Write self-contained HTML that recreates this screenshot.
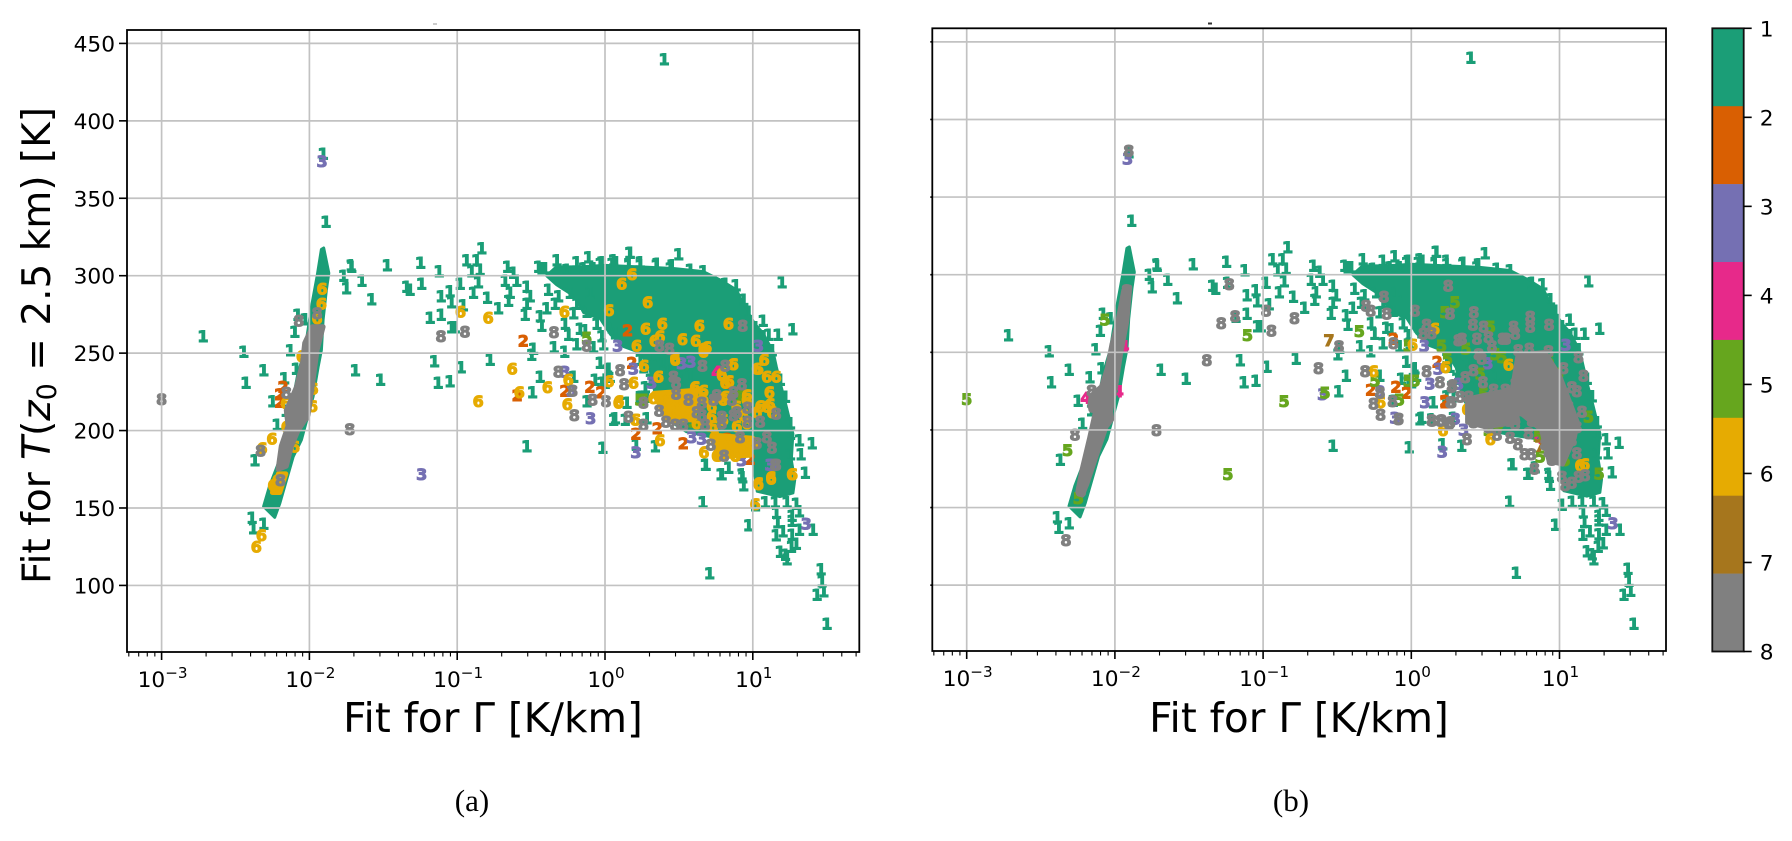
<!DOCTYPE html>
<html lang="en">
<head>
<meta charset="utf-8">
<title>Fit scatter by cluster</title>
<style>
html,body{margin:0;padding:0;background:#fff;width:1792px;height:841px;overflow:hidden}
svg{display:block}
text{font-family:"DejaVu Sans","Liberation Sans",sans-serif;fill:#000}
.cap{font-family:"Liberation Serif",serif;font-size:31px}
</style>
</head>
<body>
<svg id="fig" xmlns="http://www.w3.org/2000/svg" width="1792" height="841" viewBox="0 0 1792 841">
  <g id="panel-a"></g>
  <g id="panel-b"></g>
  <g id="cbar"></g>
  <text x="493" y="732" font-size="40.6" text-anchor="middle">Fit for Γ [K/km]</text>
  <text x="1299" y="732" font-size="40.6" text-anchor="middle">Fit for Γ [K/km]</text>
  <text transform="translate(50,584) rotate(-90)" font-size="39" text-anchor="start">Fit for <tspan font-style="italic">T</tspan>(<tspan font-style="italic">z</tspan><tspan font-size="27" dy="6">0</tspan><tspan dy="-6"> = 2.5 km) [K]</tspan></text>
  <text class="cap" x="472" y="811" text-anchor="middle">(a)</text>
  <text class="cap" x="1291" y="811" text-anchor="middle">(b)</text>
  <rect x="433" y="23.5" width="4" height="1" fill="#999"/>
  <rect x="1208" y="22.5" width="4" height="2" fill="#333"/>
</svg>
<script>
// Colour per cluster label (1..8)
const clusterColors = ['#1b9e77','#d95f02','#7570b3','#e7298a','#66a61e','#e6ab02','#a6761d','#808080'];
const clusterLabels = [1,2,3,4,5,6,7,8];
const yTicks = [100,150,200,250,300,350,400,450];
const xTickExponents = [-3,-2,-1,0,1];
const minorMultipliers = [2,3,4,5,6,7,8,9];
const xMinorDecades = [-4,-3,-2,-1,0,1];

// All data pairs are [log10(Gamma in K/km), T in K]
const cloudOutline = [[-0.169,306],[0,307],[0.237,306],[0.463,305],[0.666,303],[0.79,297],[0.892,291],[0.948,280],[1.016,269],[1.072,263],[1.14,251],[1.163,241],[1.196,228],[1.23,215.5],[1.275,198],[1.264,181],[1.287,168],[1.275,159.5],[1.185,157],[1.027,160.5],[1.0,178],[0.95,192],[0.85,194],[0.7,196],[0.55,199],[0.42,207],[0.34,222],[0.30,240],[0.237,250],[0.124,254],[0.034,262],[-0.034,272],[-0.147,276],[-0.2,286],[-0.33,294],[-0.40,300],[-0.33,306]];
const ridgeOutline = [[-1.903,317.9],[-1.869,301.7],[-1.885,291],[-1.907,271.6],[-1.919,252],[-1.941,241],[-1.975,222],[-2.054,194],[-2.11,183],[-2.2,153],[-2.235,144],[-2.31,151],[-2.27,164],[-2.21,179],[-2.167,194],[-2.133,209],[-2.077,237],[-2.03,252],[-1.986,280],[-1.948,299.6],[-1.919,317]];
const greyRidgeA = [[-1.907,267],[-1.948,252],[-1.975,233],[-2.009,210],[-2.077,200],[-2.122,190],[-2.156,177],[-2.212,175],[-2.19,190],[-2.144,203],[-2.156,213],[-2.088,228],[-2.047,243.5],[-2.032,256.5],[-1.98,267]];
const greyRidgeB = [[-1.90,292],[-1.92,270],[-1.96,250],[-2.0,225],[-2.03,212],[-2.02,207],[-2.06,202],[-2.12,185],[-2.19,165],[-2.22,158],[-2.25,160],[-2.22,175],[-2.17,195],[-2.13,212],[-2.17,215],[-2.16,222],[-2.09,228],[-2.05,240],[-2.02,255],[-1.98,270],[-1.94,290]];
const greyCoreB = [[0.72,248],[0.9,250],[1.0,235],[1.12,205],[1.1,195],[1.02,178],[0.93,180],[0.88,200],[0.75,210],[0.68,225]];
const greyArcB = [[0.38,220],[0.68,226],[0.72,205],[0.5,202],[0.38,205]];
const orangeArcA = [[0.33,224],[0.62,226],[0.6,207],[0.42,207]];
const orangeLowA = [[0.74,197],[1.0,195],[0.98,184],[0.76,183]];
const orangeRidgeA = [[-2.21,172],[-2.16,172],[-2.2,160],[-2.25,160]];

// Class-1 points, same location and label in both panels
const sharedClass1 = [[0.40,440],[-1.907,379],[-1.889,335],[-2.72,261],[-2.445,251],[-2.31,239],[-2.43,231],[-2.13,252],[-2.10,264],[-2.08,275],[-2.03,272],[-2.17,234],[-2.09,240],[-2.25,219],[-2.16,213],[-2.22,204],[-2.37,181],[-2.39,144],[-2.38,137],[-2.31,140],[-1.69,239],[-1.52,233],[-1.72,307],[-1.77,300],[-1.75,292],[-1.716,306],[-1.474,307],[-1.248,308.6],[-1.646,297],[-1.58,285],[-1.343,293],[-1.321,291],[-1.242,295],
[-0.835,318],[-0.937,310],[-0.869,310],[-1.124,303],[-0.661,306],[-0.621,302],[-0.903,303],[-0.847,304],[-0.858,296],[-0.982,295],[-0.892,289],[-0.797,286],[-1.05,290],[-1.11,287],[-1.04,283],[-0.96,281],[-1.11,275],[-0.722,279],[-0.654,284],[-1.185,273],[-1.04,267],[-1.015,267],[-1.155,245],[-0.975,241],[-1.13,231],[-1.05,232],[-0.779,246],[-0.492,225],[-0.44,235],[-0.485,253],[-0.497,249],[-0.345,254],[-0.275,251],[-0.53,190],[-0.016,189],[0.21,191],[0.339,190],[0.068,208],[0.147,218],[0.023,240],[-0.023,231],[-0.214,235],[-0.124,219],[-0.068,233],[0.135,207],[0.282,208],[0.237,222],[0.677,178],[0.79,172],[0.835,176],[0.925,172],
[-0.677,297],[-0.643,289],[-0.598,297],[-0.53,293],[-0.508,287],[-0.53,282],[-0.542,275],[-0.44,274],[-0.429,268],[-0.395,279],[-0.384,291],[-0.339,282],[-0.316,287],[-0.327,310],[-0.429,305],[-0.451,306],[-0.406,305],[-0.237,289],[-0.271,269],[-0.248,262],[-0.192,256],[-0.169,266],[-0.135,265],[-0.214,276],[-0.192,282],[-0.124,277],[-0.102,289],[-0.056,269],[-0.011,256],[-0.079,254],[0.045,267],[0.068,263],[-0.023,261],[-0.113,312],[-0.023,309],[0.169,315],[0.497,314],[0.056,310],[0.158,307],[0.237,309],[0.35,308],[0.44,305],[-0.192,309],[-0.26,304],[-0.147,305],[-0.079,305],
[0.165,315],[0.885,294],[1.196,296],[1.068,271],[1.106,262],[1.169,262],[1.269,265.5],[1.314,194],[1.40,192],[1.325,185],[1.354,173],[0.783,172],[0.93,170],[0.937,165],[0.682,178],
[0.237,246],[0.316,248],[0.26,241],[0.395,244],[0.418,239],[0.384,233],[0.305,233],[0.271,228],[0.282,222],[0.53,241],[0.576,235],[0.508,233],[0.056,207],[0.011,239],[0,231],[-0.034,244],[0.034,235],
[0.661,154],[0.971,139],[0.707,108],[1.084,154],[1.151,154],[1.23,154],[1.293,153],[1.158,147],[1.167,141],[1.264,145],[1.264,142],[1.314,148],[1.314,136],[1.406,136],[1.156,132.5],[1.203,135],[1.264,133],[1.293,127],[1.26,125],[1.185,122],[1.219,120],[1.23,117],[1.46,110.6],[1.467,103],[1.479,96.5],[1.433,94],[1.501,75.4],[1.016,152],
[-0.034,308],[0.045,308],[0.074,309],[0.158,308],[0.237,307],[0.345,307],[0.451,307],[0.576,304],[0.666,303],[0.813,295],[0.937,284.5],[0.971,277],[1.016,267],[1.072,261],[1.129,252],[1.185,233],[1.219,222],[1.253,205],[1.253,198],[1.253,185]];

// Panel (a) clusters
const a2 = [[-2.178,228.5],[-2.2,223.7],[-2.2,218.7],[-0.553,258],[-0.594,223],[-0.271,226],[-0.102,228.5],[-0.027,225],[0.153,265],[0.181,244],[0.21,198],[0.354,201.5],[0.53,192],[0.982,182],[0.835,231],[0.828,195]];
const a3 = [[-1.914,374],[-1.24,172],[0.086,255],[-0.271,238],[-0.226,226],[-0.097,208],[0.192,240],[0.21,186],[0.316,231],[0.519,243.5],[0.582,244.6],[1.038,255],[0.587,196],[0.655,195],[0.474,211],[1.129,178],[0.925,181],[1.361,140],[1.117,178]];
const a4 = [[0.757,238],[0.88,187.5]];
const a5 = [[-0.124,260],[0.237,220],[0.609,206],[0.722,203],[0.914,222],[0.26,220],[0.892,222],[0.598,206]];
const a6 = [[-2.232,165],[-2.253,195],[-2.32,188.6],[-2.325,132.5],[-2.359,125],[-1.914,291.6],[-1.919,282],[-1.948,272.6],[-1.98,216],[-2.16,217.7],[-1.975,227],[-2.054,248],[-2.156,202.6],[-2.1,189.7],[-2.217,168],[-2.246,165],
[-0.977,277],[-0.79,273],[-0.275,277],[-0.628,240],[-0.58,225],[-0.858,219],[-0.39,228],[-0.248,233],[-0.255,217],[0.027,232],[0.095,219],[0.027,278],[0.113,295],[0.183,301],[0.289,283],[0.275,266],[0.388,269],[0.214,255],[0.334,258],[0.372,261],[0.524,259],[0.614,258],[0.639,268],[0.835,269],[0.688,254],[0.666,251],[0.474,246],[0.264,242],[0.361,235],[0.192,231],[0.609,228],[0.666,226],[0.79,237],[0.865,243],[0.84,232],[0.372,194],[0.203,207],[0.67,186],[0.767,184],[0.88,184],[0.948,187.5],[1.038,240],
[0.327,221],[0.384,218],[0.429,221],[0.485,216],[0.53,220],[0.61,218],[0.666,221],[0.722,216],[0.813,222],[0.959,220],[1.05,216],[1.117,217],[0.429,209],[0.485,208],[0.564,210],[0.722,209],[0.937,210],[1.027,212],[0.61,228],[0.79,236],[0.813,231],[0.361,235],[0.474,247],[0.666,253],[0.869,243],[1.027,240],[1.077,246],[1.095,235],[1.158,235],[1.113,225],[1.264,172],[1.124,170],[1.038,166],[0.756,184],[0.883,184],[0.941,187.5],[0.835,192],[0.959,190],[1.005,192],[0.74,196],[0.208,207],[0.09,218],[0.892,203],[0.8,207],[0.62,205],[0.73,203],[0.96,205],[1.095,215.5],[1.13,212],[0.89,215.5],[0.80,220],[0.96,223],[1.269,172],[1.016,152.6],[1.124,169],[1.038,165.5]];
const a7 = [];
const a8 = [[-3,220.5],[-1.727,201],[-2.072,271],[-1.948,276],[-2.33,187],[-2.156,224.6],[-2.196,168],[-2.032,210],[-1.11,261],[-0.948,264],[-0.345,263.6],[-0.124,255],[-0.316,238],[-0.219,226],[-0.084,220],[0.007,219],[-0.208,210],[0.102,239],[0.129,230],[0.158,209],[0.26,218],[0.26,204],[0.368,255],[0.436,253],[0.659,242],[0.813,242],[0.926,230],[0.932,268],[0.463,235],[0.481,231],[0.481,224],[0.564,220],[0.366,213],[0.413,206],[0.474,204],[0.53,204],[0.62,212],[0.655,218],[0.655,210],[0.677,204],[0.734,220],[0.756,223],[0.858,220],[0.869,225],[0.79,209],[0.79,205],[0.869,210],[0.892,212],[0.964,215],[0.964,206],[1.05,206],[1.158,211],[0.914,196],[1.095,196],[1.027,192],[1.129,189],[0.716,191],[0.806,184],[1.151,178],[1.158,178]];

// Panel (b) clusters
const b2 = [[-0.121,259],[0.175,244],[-0.103,228],[-0.031,224],[-0.274,226],[0.227,219],[-0.029,224],[0.229,218]];
const b3 = [[-1.914,375],[-0.598,223],[0.088,254.5],[0.182,239.5],[0.126,230],[0.092,218],[-0.11,208],[0.209,186],[-0.211,225],[0.319,230],[0.517,243],[1.043,255],[0.353,200.4],[0.297,207.5],[0.566,219],[0.971,182],[1.361,140]];
const b4 = [[0.742,238.6],[-2.196,221],[-1.978,225],[-1.94,254],[0.86,195]];
const b5 = [[-3,220],[-2.067,271],[-2.319,187],[-2.247,156],[-1.105,261],[-0.351,263.6],[-0.582,224],[-0.858,218.5],[-1.238,171.6],[-0.02,254.5],[-0.02,232],[0.025,232],[-0.081,219.6],[0.294,282.5],[0.227,276],[0.204,254.5],[0.243,246],[-0.245,232],[0.369,252.6],[0.533,266.5],[0.566,249],[0.611,247],[0.93,245],[0.993,236.5],[0.488,223.6],[0.791,223.6],[1.05,208.6],[1.196,208.6],[0.858,196],[0.87,183],[1.038,180.6],[1.267,172],[0.915,219],[0.589,204],[0.465,236.5],[0.521,200]];
const b6 = [[0.009,255],[0.231,240.7],[-0.256,238],[-0.207,218],[0.157,265.5],[0.656,242],[0.375,213.5],[0.611,207],[0.213,200],[0.533,194],[1.139,177.5],[1.17,178],[0.903,220],[0.982,198]];
const b7 = [[-0.555,258],[0.87,190],[0.611,219.5]];
const b8 = [[-1.229,294],[-1.189,273.5],[-1.283,269],[-1.38,245],[-1.72,200],[-0.98,277],[-0.944,264],[-0.789,272],[-0.627,240],[-0.488,254],[-0.306,280],[-0.274,277],[-0.184,286],[-0.166,275],[0.025,277],[0.249,293],[0.261,275],[0.103,268],[0.081,262],[0.137,262.5],[-0.121,256],[-0.312,238],[-0.211,224],[-0.126,218.5],[-0.256,217],[-0.207,210],[-0.088,207],[0.103,238],[0.193,231],[0.272,228],[0.272,218],[0.137,206.5],[0.204,206.5],[0.256,204],[0.317,258],
[0.422,276],[0.416,268],[0.488,266.5],[0.802,273],[0.802,266.5],[0.93,268],[0.69,266.5],[0.701,262],[0.616,259],[0.64,259],[0.342,259],[0.443,259],[0.521,260],[0.544,254],[0.721,251.5],[0.796,252.6],[0.926,251],[1.128,247],[1.162,235],[1.083,227.5],[1.117,225],[1.027,240],[0.454,249],[0.476,246],[0.42,238.6],[0.364,234],[0.279,229],[0.483,231],[0.555,226],[0.634,226],[0.701,230],[0.33,221.5],[0.387,221.5],[0.263,218],[0.499,216],[0.555,215],[0.656,217],[0.398,208.6],[0.42,205],[0.544,206],[0.521,202],[0.263,205],[0.196,206],[0.139,206],[-0.085,207.5],[0.578,197],[0.375,194],[0.667,195],[0.719,191],[0.764,184.5],[0.809,184.5],[0.831,175],[0.926,186],[1.016,170],[1.038,164.5],[1.083,166],[1.173,171],[1.128,170],[1.117,185],[1.083,193.5],[1.117,202],[1.151,212],[0.78,241],[0.757,234],[0.712,224],[0.858,226],[0.903,230],[0.948,228],[0.993,221.5],[1.038,218],[1.06,215],[0.858,243],[0.791,217],[0.746,213],[0.858,213],[0.948,213],[1.038,206],[0.926,204],[0.813,206],[0.791,198],[0.926,198],[1.038,198],[0.903,191],[0.948,181],[1.038,189],[0.701,204],[0.656,206],
[-1.921,290],[-1.933,281],[-2.09,221],[-2.045,212],[-2.157,225.5],[-2.146,215],[-2.229,161],[-2.33,129],[-2.27,197],[-1.907,380]];

const panelASeries = [sharedClass1,a2,a3,a4,a5,a6,a7,a8];
const panelBSeries = [sharedClass1,b2,b3,b4,b5,b6,b7,b8];
const panelAOrangeShapes = [orangeArcA,orangeLowA,orangeRidgeA];
const panelAGreyShapes = [greyRidgeA];
const panelBOrangeShapes = [];
const panelBGreyShapes = [greyRidgeB,greyCoreB,greyArcB];

const SVG_NS = 'http://www.w3.org/2000/svg';

function make(parent, tag, attrs){
  const node = document.createElementNS(SVG_NS, tag);
  for (const k in attrs) node.setAttribute(k, attrs[k]);
  parent.appendChild(node);
  return node;
}

function makeAxes(left, right, top, bottom, x0, decade, y300, perK){
  return {
    left: left, right: right, top: top, bottom: bottom,
    x: function(lg){ return x0 + lg * decade; },
    y: function(t){ return y300 + (300 - t) * perK; }
  };
}

function polyPoints(ax, outline){
  return outline.map(function(p){ return ax.x(p[0]).toFixed(1) + ',' + ax.y(p[1]).toFixed(1); }).join(' ');
}

function drawPanel(root, ax, series, orangeShapes, greyShapes, showYLabels){
  // dense ridge and cloud of class 1
  const ridge = make(root, 'polygon', {points: polyPoints(ax, ridgeOutline), fill: clusterColors[0], stroke: clusterColors[0], 'stroke-width': 3, 'stroke-linejoin': 'round'});
  
  
  const cloud = make(root, 'polygon', {points: polyPoints(ax, cloudOutline), fill: clusterColors[0], stroke: clusterColors[0], 'stroke-width': 2, 'stroke-linejoin': 'round'});
  
  

  series.forEach(function(points, s){
    const group = make(root, 'g', {});
    
    
    if (s === 5) {
      orangeShapes.forEach(function(outline){
        const blob = make(group, 'polygon', {points: polyPoints(ax, outline), fill: clusterColors[5], stroke: clusterColors[5], 'stroke-width': 5, 'stroke-linejoin': 'round'});
        
        
      });
    }
    if (s === 7) {
      greyShapes.forEach(function(outline){
        const blob = make(group, 'polygon', {points: polyPoints(ax, outline), fill: clusterColors[7], stroke: clusterColors[7], 'stroke-width': 5, 'stroke-linejoin': 'round'});
        
        
      });
    }
    points.forEach(function(p){
      const mark = make(group, 'text', {
        x: ax.x(p[0]).toFixed(1),
        y: (ax.y(p[1]) + 6).toFixed(1),
        'text-anchor': 'middle',
        'font-size': '16',
        'font-weight': '700',
        style: 'fill:' + clusterColors[s] + ';stroke:' + clusterColors[s] + ';stroke-width:1;'
      });
      mark.textContent = String(clusterLabels[s]);
      
      
    });
  });

  // grid sits above the marks
  xTickExponents.forEach(function(e){
    const g = make(root, 'line', {x1: ax.x(e), x2: ax.x(e), y1: ax.top, y2: ax.bottom, stroke: '#c2c2c2', 'stroke-width': 1.7});
    
    
  });
  yTicks.forEach(function(v){
    const g = make(root, 'line', {x1: ax.left, x2: ax.right, y1: ax.y(v), y2: ax.y(v), stroke: '#c2c2c2', 'stroke-width': 1.7});
    
    
  });

  // x ticks
  xTickExponents.forEach(function(e){
    const t = make(root, 'line', {x1: ax.x(e), x2: ax.x(e), y1: ax.bottom, y2: ax.bottom + 8, stroke: '#000', 'stroke-width': 1.6});
    
    
    const label = make(root, 'text', {x: ax.x(e) + 1, y: ax.bottom + 35, 'font-size': 21.7, 'text-anchor': 'middle'});
    
    
    const base = make(label, 'tspan', {});
    base.textContent = '10';
    const exp = make(label, 'tspan', {'font-size': 15.2, dy: -9});
    exp.textContent = (e < 0 ? '\u2212' : '') + Math.abs(e);
  });
  xMinorDecades.forEach(function(d){
    minorMultipliers.forEach(function(m){
      const pos = ax.x(d + Math.log10(m));
      if (pos < ax.left || pos > ax.right) return;
      const t = make(root, 'line', {x1: pos, x2: pos, y1: ax.bottom, y2: ax.bottom + 4.5, stroke: '#000', 'stroke-width': 1.1});
      
      
    });
  });

  // y ticks
  yTicks.forEach(function(v){
    const len = showYLabels ? 8 : 2;
    const t = make(root, 'line', {x1: ax.left - len, x2: ax.left, y1: ax.y(v), y2: ax.y(v), stroke: '#000', 'stroke-width': 1.6});
    
    
    if (showYLabels) {
      const label = make(root, 'text', {x: ax.left - 12, y: ax.y(v) + 8, 'font-size': 21.7, 'text-anchor': 'end'});
      label.textContent = String(v);
      
      
    }
  });

  const frame = make(root, 'rect', {x: ax.left, y: ax.top, width: ax.right - ax.left, height: ax.bottom - ax.top, fill: 'none', stroke: '#000', 'stroke-width': 1.8});
  
  
}

const axesA = makeAxes(127, 859.3, 30, 652, 605, 147.8, 275.7, 1.5486);
const axesB = makeAxes(932.3, 1666, 28.3, 651, 1411.3, 148.2, 274.7, 1.5523);
drawPanel(document.getElementById('panel-a'), axesA, panelASeries, panelAOrangeShapes, panelAGreyShapes, true);
drawPanel(document.getElementById('panel-b'), axesB, panelBSeries, panelBOrangeShapes, panelBGreyShapes, false);

// colorbar
(function(){
  const root = document.getElementById('cbar');
  const left = 1712.3, right = 1743.7, top = 28.3, bottom = 651.5;
  const n = clusterLabels.length;
  const cell = (bottom - top) / n;
  const step = (bottom - top) / (n - 1);
  clusterColors.forEach(function(c, i){
    const seg = make(root, 'rect', {x: left, y: top + i * cell, width: right - left, height: cell + 0.3, fill: c});
    
    
  });
  const border = make(root, 'rect', {x: left, y: top, width: right - left, height: bottom - top, fill: 'none', stroke: '#111', 'stroke-width': 1.8});
  
  
  clusterLabels.forEach(function(lab, i){
    const yPos = top + i * step;
    const t = make(root, 'line', {x1: right, x2: right + 8, y1: yPos, y2: yPos, stroke: '#000', 'stroke-width': 1.6});
    
    
    const label = make(root, 'text', {x: right + 16, y: yPos + 8, 'font-size': 21.7});
    label.textContent = String(lab);
    
    
  });
})();
</script>
</body>
</html>
